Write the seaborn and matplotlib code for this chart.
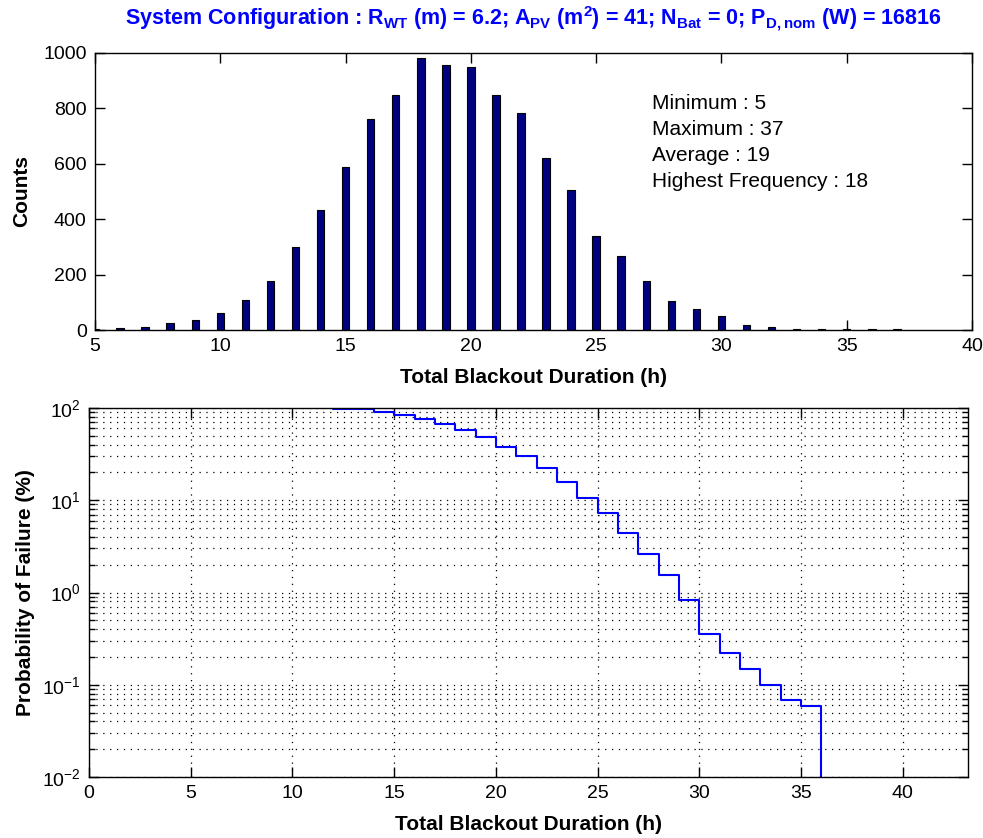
import matplotlib
matplotlib.use('Agg')
import matplotlib.pyplot as plt
import seaborn as sns
from matplotlib.ticker import LogLocator, NullFormatter, MultipleLocator

# histogram of total blackout duration
durations = [5, 6, 7, 8, 9, 10, 11, 12, 13, 14, 15, 16, 17, 18, 19, 20, 21,
             22, 23, 24, 25, 26, 27, 28, 29, 30, 31, 32, 33, 34, 35, 36, 37]
counts = [4, 6, 12, 25, 35, 61, 109, 178, 298, 432, 588, 760, 848, 982, 958, 948, 848,
          783, 622, 505, 338, 268, 178, 105, 76, 52, 18, 12, 4, 4, 4, 4, 3]

# probability of failure (%) step curve
step_hours = [12, 13, 14, 15, 16, 17, 18, 19, 20, 21, 22, 23, 24,
              25, 26, 27, 28, 29, 30, 31, 32, 33, 34, 35, 36]
failure_pct = [97, 96.8, 91, 84.6, 76, 67.6, 57.7, 48.9, 38, 30.1, 22.2, 15.6, 10.6,
               7.2, 4.37, 2.61, 1.56, 0.83, 0.354, 0.219, 0.148, 0.100, 0.068, 0.0586, 0]

stat_names = ['Minimum', 'Maximum', 'Average', 'Highest Frequency']
stat_values = [5, 37, 19, 18]

sns.set_style('ticks')
plt.rcParams['font.family'] = ['Liberation Sans', 'DejaVu Sans']
plt.rcParams['mathtext.fontset'] = 'custom'
plt.rcParams['mathtext.rm'] = 'Liberation Sans'
plt.rcParams['mathtext.default'] = 'regular'
plt.rcParams['axes.linewidth'] = 1.0
for k in ('text.color', 'axes.labelcolor', 'xtick.color', 'ytick.color', 'axes.edgecolor'):
    plt.rcParams[k] = 'black'

fig = plt.figure(figsize=(9.83, 8.38), dpi=100)
ax1 = fig.add_axes([0.0967, 0.6062, 0.8921, 0.3306])
ax2 = fig.add_axes([0.0905, 0.0728, 0.8942, 0.4403])

dotted = (0, (1, 4.5))
tick_fs = 14
label_fs = 15

# top: histogram
sns.barplot(x=durations, y=counts, native_scale=True, width=0.3,
            color='#000080', edgecolor='black', linewidth=0.8, saturation=1, ax=ax1)
ax1.set_xlim(5, 40)
ax1.set_ylim(0, 1000)
ax1.xaxis.set_major_locator(MultipleLocator(5))
ax1.yaxis.set_major_locator(MultipleLocator(200))
ax1.set_xlabel('Total Blackout Duration (h)', fontsize=label_fs, fontweight='bold', labelpad=9)
ax1.set_ylabel('Counts', fontsize=label_fs, fontweight='bold', labelpad=9)
ax1.set_title(r'System Configuration : R$_{WT}$ (m) = 6.2; A$_{PV}$ (m$^{2}$) = 41; '
              r'N$_{Bat}$ = 0; P$_{D,nom}$ (W) = 16816',
              fontsize=15.5, fontweight='bold', color='#0000ff', pad=20)

ys = [0.798, 0.704, 0.610, 0.516]
for name, val, y in zip(stat_names, stat_values, ys):
    ax1.text(0.635, y, f'{name} : {val}', transform=ax1.transAxes,
             fontsize=15, va='baseline', ha='left')

# bottom: probability of failure
sns.lineplot(x=step_hours, y=failure_pct, drawstyle='steps-post',
             color='#0000ff', linewidth=1.5, ax=ax2)
ax2.set_yscale('log', nonpositive='clip')
ax2.set_xlim(0, 43.2)
ax2.set_ylim(1e-2, 1e2)
ax2.xaxis.set_major_locator(MultipleLocator(5))
ax2.yaxis.set_major_locator(LogLocator(base=10, numticks=10))
ax2.yaxis.set_minor_locator(LogLocator(base=10, subs=range(2, 10), numticks=10))
ax2.yaxis.set_minor_formatter(NullFormatter())
ax2.set_axisbelow(True)
ax2.grid(True, which='both', axis='y', linestyle=dotted, color='black', linewidth=0.9)
ax2.grid(True, which='major', axis='x', linestyle=dotted, color='black', linewidth=0.9)
ax2.set_xlabel('Total Blackout Duration (h)', fontsize=label_fs, fontweight='bold', labelpad=9)
ax2.set_ylabel('Probability of Failure (%)', fontsize=label_fs, fontweight='bold', labelpad=5)

for ax in (ax1, ax2):
    for s in ax.spines.values():
        s.set_visible(True)
        s.set_color('black')
    ax.tick_params(which='major', direction='in', top=True, right=True,
                   length=7, width=1, labelsize=tick_fs, colors='black', pad=6)
    ax.tick_params(which='minor', direction='in', top=True, right=True,
                   length=4, width=1)
ax1.tick_params(which='minor', top=False, bottom=False, left=False, right=False)
ax2.tick_params(axis='x', which='minor', top=False, bottom=False)

fig.savefig('out.png', dpi=100)
